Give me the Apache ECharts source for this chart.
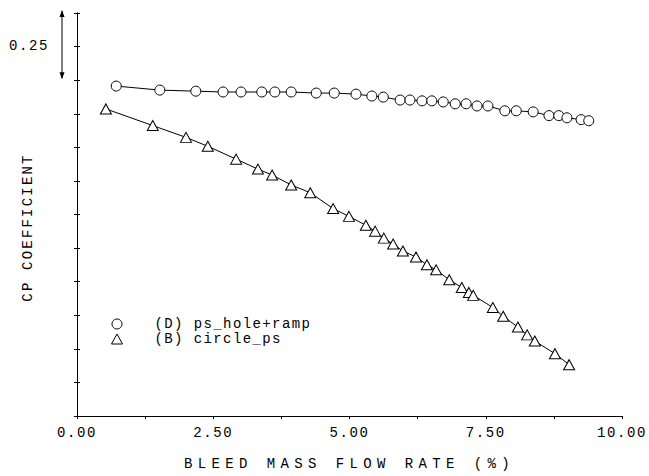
<!DOCTYPE html>
<html><head><meta charset="utf-8">
<script src="https://cdn.jsdelivr.net/npm/echarts@6/dist/echarts.min.js"></script>
<style>html,body{margin:0;padding:0;background:#fff}#c{width:649px;height:476px}</style>
</head><body><div id="c"></div>
<script>
// (D) ps_hole+ramp  (circles)
const holeX = [0.72,1.52,2.18,2.68,3.01,3.39,3.63,3.93,4.39,4.72,5.12,5.41,5.62,5.93,6.11,6.33,6.51,6.72,6.94,7.14,7.34,7.54,7.85,8.06,8.37,8.66,8.84,8.99,9.25,9.39];
const holeY = [1.228,1.213,1.209,1.206,1.206,1.206,1.206,1.206,1.202,1.202,1.198,1.191,1.187,1.176,1.176,1.173,1.173,1.169,1.162,1.162,1.154,1.154,1.136,1.136,1.132,1.118,1.118,1.110,1.103,1.099];
// (B) circle_ps  (triangles)
const circX = [0.53,1.39,2.00,2.40,2.92,3.32,3.58,3.93,4.28,4.70,4.99,5.30,5.47,5.63,5.80,5.98,6.22,6.42,6.59,6.83,7.06,7.19,7.27,7.63,7.82,8.09,8.26,8.40,8.77,9.03];
const circY = [1.143,1.081,1.037,1.004,0.956,0.919,0.897,0.860,0.831,0.772,0.743,0.710,0.688,0.662,0.640,0.614,0.592,0.563,0.544,0.507,0.478,0.460,0.449,0.404,0.371,0.331,0.302,0.279,0.232,0.191];
const seriesNames = ['(D) ps_hole+ramp', '(B) circle_ps'];
const xTitle = 'BLEED MASS FLOW RATE (%)';
const yTitle = 'CP COEFFICIENT';
const scaleLabel = '0.25';
const scaleSpan = 0.25;

(function () {
const FONT = 'Liberation Mono';
const chart = echarts.init(document.getElementById('c'), null, {renderer: 'svg'});
const zip = (a, b) => a.map((v, i) => [v, b[i]]);
const mk = {color: '#fff', borderColor: '#000', borderWidth: 1};
const tick = {show: true, inside: false, length: 3, lineStyle: {color: '#000'}};

chart.setOption({
  animation: false,
  backgroundColor: '#fff',
  grid: {left: 77, right: 27, top: 13, bottom: 55},
  xAxis: [{
    type: 'value', min: 0, max: 10, interval: 1.25,
    axisLine: {lineStyle: {color: '#000', width: 1}},
    axisTick: tick,
    splitLine: {show: false},
    axisLabel: {color: '#000', fontFamily: FONT, fontSize: 14, margin: 10,
      formatter: v => (Math.abs(v / 2.5 - Math.round(v / 2.5)) < 1e-6) ? v.toFixed(2) : ''},
    name: xTitle, nameLocation: 'middle', nameGap: 41,
    nameTextStyle: {color: '#000', fontFamily: FONT, fontSize: 14}
  }, {
    type: 'value', min: 0, max: 10, position: 'top',
    axisLine: {show: true, lineStyle: {color: '#000'}}, axisTick: {show: false},
    axisLabel: {show: false}, splitLine: {show: false}
  }],
  yAxis: [{
    type: 'value', min: 0, max: 1.5, interval: 0.125,
    axisLine: {show: true, lineStyle: {color: '#000'}},
    axisTick: tick,
    axisLabel: {show: false}, splitLine: {show: false},
    name: yTitle, nameLocation: 'middle', nameGap: 42,
    nameTextStyle: {color: '#000', fontFamily: FONT, fontSize: 14, padding: [0, 26, 0, 0]}
  }, {
    type: 'value', min: 0, max: 1.5, interval: 0.125, position: 'right',
    axisLine: {show: true, lineStyle: {color: '#000'}},
    axisTick: tick,
    axisLabel: {show: false}, splitLine: {show: false}
  }],
  legend: {
    orient: 'vertical', left: 106, top: 312, itemGap: 1, itemWidth: 11, itemHeight: 10,
    textStyle: {color: '#000', fontFamily: FONT, fontSize: 14, padding: [0, 0, 0, 27]},
    data: [
      {name: seriesNames[0], icon: 'circle', itemStyle: mk},
      {name: seriesNames[1], icon: 'triangle', itemStyle: mk}
    ]
  },
  series: [{
    name: seriesNames[0], type: 'line', data: zip(holeX, holeY),
    symbol: 'circle', symbolSize: 10, itemStyle: mk,
    lineStyle: {color: '#000', width: 1}
  }, {
    name: seriesNames[1], type: 'line', data: zip(circX, circY),
    symbol: 'triangle', symbolSize: [11, 10], itemStyle: mk,
    lineStyle: {color: '#000', width: 1}
  }]
});

// scale annotation (double arrow of 0.25 units)
const pTop = chart.convertToPixel({yAxisIndex: 0}, 1.5);
const pBot = chart.convertToPixel({yAxisIndex: 0}, 1.5 - scaleSpan);
const ax = 62, t = pTop - 3, b = pBot - 1;
chart.setOption({graphic: [
  {type: 'line', shape: {x1: ax, y1: t + 1, x2: ax, y2: b - 1}, style: {stroke: '#000', lineWidth: 1}},
  {type: 'polygon', shape: {points: [[ax, t], [ax - 2.5, t + 7], [ax + 2.5, t + 7]]}, style: {fill: '#000'}},
  {type: 'polygon', shape: {points: [[ax, b], [ax - 2.5, b - 7], [ax + 2.5, b - 7]]}, style: {fill: '#000'}},
  {type: 'text', x: 29, y: (t + b) / 2 + 1, style: {text: scaleLabel, font: '14px ' + FONT, fill: '#000', align: 'center', verticalAlign: 'middle'}}
]});

function spacing() {
  document.querySelectorAll('#c text').forEach(el => {
    const s = el.textContent;
    let ls = '1.6px';
    if (s === xTitle) ls = '5.4px';
    else if (s === yTitle) ls = '2.2px';
    else if (seriesNames.includes(s)) ls = '1.4px';
    el.style.letterSpacing = ls;
  });
}
spacing();
chart.on('finished', spacing);
})();
</script></body></html>
